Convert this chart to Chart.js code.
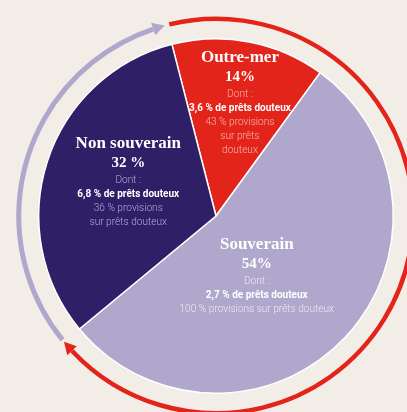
<!DOCTYPE html>
<html>
<head>
<meta charset="utf-8">
<script src="https://cdn.jsdelivr.net/npm/chart.js@4/dist/chart.umd.min.js"></script>
<style>
  html,body{margin:0;padding:0;background:#f2eee7;}
  #wrap{width:407px;height:412px;position:relative;}
</style>
</head>
<body>
<div id="wrap"><canvas id="pie"></canvas></div>
<script>
// data
const categories = ["Outre-mer", "Souverain", "Non souverain"];
const shares = [14, 54, 32];
const shareLabels = ["14%", "54%", "32 %"];
const doubtful = ["3,6 % de prêts douteux", "2,7 % de prêts douteux", "6,8 % de prêts douteux"];
const provisionLines = [
  ["43 % provisions", "sur prêts", "douteux"],
  ["100 % provisions sur prêts douteux"],
  ["36 % provisions", "sur prêts douteux"]
];

const colors = ["#e3241b", "#b0a8cc", "#2e1f66"];
const softText = ["#f6b8ae", "#ebe8f3", "#b3abd6"];
// label anchor (title centre) as offset from pie centre, in units of radius
const anchors = [[0.135, -0.895], [0.23, 0.16], [-0.495, -0.41]];

// condensed sans text
function condText(ctx, txt, x, y, font, color, sx){
  ctx.save();
  ctx.font = font;
  ctx.fillStyle = color;
  ctx.translate(x, y);
  ctx.scale(sx, 1);
  ctx.fillText(txt, 0, 0);
  ctx.restore();
}

function arrowArc(ctx, cx, cy, R, a0, a1, color, w){
  const L = 12, hw = 6.5;
  const ab = a1 - L / R;
  ctx.strokeStyle = color;
  ctx.lineWidth = w;
  ctx.beginPath();
  ctx.arc(cx, cy, R, a0, ab);
  ctx.stroke();
  ctx.fillStyle = color;
  ctx.beginPath();
  ctx.moveTo(cx + R * Math.cos(a1), cy + R * Math.sin(a1));
  ctx.lineTo(cx + (R + hw) * Math.cos(ab), cy + (R + hw) * Math.sin(ab));
  ctx.lineTo(cx + (R - hw) * Math.cos(ab), cy + (R - hw) * Math.sin(ab));
  ctx.closePath();
  ctx.fill();
}

const decor = {
  id: "decor",
  afterDatasetsDraw(chart){
    const ctx = chart.ctx;
    const arcs = chart.getDatasetMeta(0).data;
    const cx = arcs[0].x, cy = arcs[0].y, r = arcs[0].outerRadius;
    const R = r + 20;
    const g = 0.012;
    // red: Outre-mer + Souverain, purple: Non souverain
    arrowArc(ctx, cx, cy, R, arcs[0].startAngle + g, arcs[1].endAngle, "#e3241b", 4.5);
    arrowArc(ctx, cx, cy, R, arcs[2].startAngle + g, arcs[2].endAngle - g, "#b0a8cc", 5);

    ctx.textAlign = "center";
    ctx.textBaseline = "middle";
    categories.forEach((c, i) => {
      const x = cx + anchors[i][0] * r;
      let y = cy + anchors[i][1] * r;
      ctx.fillStyle = "#ffffff";
      ctx.font = "bold 17px 'Liberation Serif'";
      ctx.fillText(c, x, y);
      y += 20;
      ctx.font = "bold 15px 'Liberation Serif'";
      ctx.fillText(shareLabels[i], x, y);
      y += 17;
      condText(ctx, "Dont :", x, y, "300 11.5px Roboto", softText[i], 0.88);
      y += 14;
      condText(ctx, doubtful[i], x, y, "bold 11.5px Roboto", "#ffffff", 0.87);
      provisionLines[i].forEach(l => {
        y += 14;
        condText(ctx, l, x, y, "300 11.5px Roboto", softText[i], 0.88);
      });
    });
  }
};

new Chart(document.getElementById("pie"), {
  type: "pie",
  data: {
    labels: categories,
    datasets: [{
      data: shares,
      backgroundColor: colors,
      borderColor: "#ffffff",
      borderWidth: 1.5
    }]
  },
  options: {
    responsive: true,
    maintainAspectRatio: false,
    animation: false,
    rotation: -14.4,
    layout: { padding: { left: 38, right: 13, top: 38, bottom: 18 } },
    plugins: { legend: { display: false }, tooltip: { enabled: false } }
  },
  plugins: [decor]
});
</script>
</body>
</html>
